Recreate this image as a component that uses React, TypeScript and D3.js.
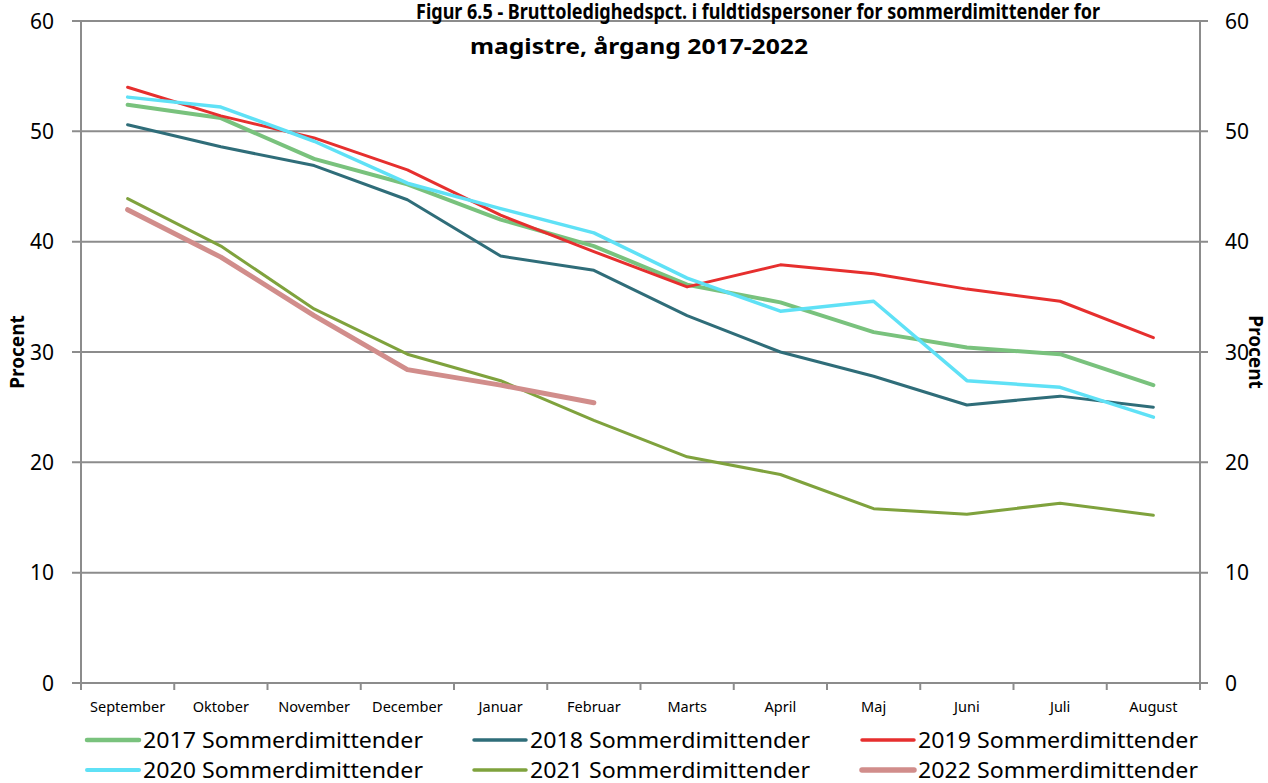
import React from "react";
import * as d3 from "d3";

const months = ["September", "Oktober", "November", "December", "Januar", "Februar", "Marts", "April", "Maj", "Juni", "Juli", "August"];
const yTicks = [0, 10, 20, 30, 40, 50, 60];

const s2017 = [52.4, 51.2, 47.5, 45.2, 42.0, 39.6, 36.1, 34.5, 31.8, 30.4, 29.8, 27.0];
const s2018 = [50.6, 48.6, 46.9, 43.8, 38.7, 37.4, 33.3, 30.0, 27.8, 25.2, 26.0, 25.0];
const s2019 = [54.0, 51.4, 49.4, 46.5, 42.4, 39.1, 35.9, 37.9, 37.1, 35.7, 34.6, 31.3];
const s2020 = [53.1, 52.2, 49.1, 45.3, 43.0, 40.8, 36.7, 33.7, 34.6, 27.4, 26.8, 24.1];
const s2021 = [43.9, 39.6, 33.9, 29.8, 27.4, 23.8, 20.5, 18.9, 15.8, 15.3, 16.3, 15.2];
const s2022 = [42.9, 38.6, 33.3, 28.4, 27.0, 25.4];

const seriesNames = ["2017 Sommerdimittender", "2018 Sommerdimittender", "2019 Sommerdimittender", "2020 Sommerdimittender", "2021 Sommerdimittender", "2022 Sommerdimittender"];

const series = [
  { name: seriesNames[0], values: s2017, color: "#79C27D", width: 4 },
  { name: seriesNames[1], values: s2018, color: "#2F6D79", width: 3 },
  { name: seriesNames[2], values: s2019, color: "#E62F2E", width: 3 },
  { name: seriesNames[3], values: s2020, color: "#5FE1F6", width: 3.5 },
  { name: seriesNames[4], values: s2021, color: "#7FA23D", width: 3 },
  { name: seriesNames[5], values: s2022, color: "#D18D8B", width: 5 },
];

const W = 1268;
const H = 783;
const L = 81;
const R = 1200;
const T = 21;
const B = 683;
const FONT = "'Noto Sans', 'Open Sans', sans-serif";
const GRID = "#8C8C8C";

export default function App() {
  const x = d3.scaleBand<string>().domain(months).range([L, R]).padding(0);
  const y = d3.scaleLinear().domain([0, 60]).range([B, T]);
  const line = d3
    .line<number>()
    .x((_, i) => (x(months[i]) as number) + x.bandwidth() / 2)
    .y((d) => y(d));

  const boundaries = months.map((m) => x(m) as number).concat([R]);

  const row1 = 740;
  const row2 = 770;
  const legendPos = [
    { lx: 87, tx: 143, ly: row1 },
    { lx: 474, tx: 530, ly: row1 },
    { lx: 862, tx: 918, ly: row1 },
    { lx: 87, tx: 143, ly: row2 },
    { lx: 474, tx: 530, ly: row2 },
    { lx: 862, tx: 918, ly: row2 },
  ];

  return (
    <svg
      width={W}
      height={H}
      style={{ position: "absolute", left: 0, top: 0, background: "#fff" }}
      fontFamily={FONT}
    >
      <rect x={0} y={0} width={W} height={H} fill="#fff" />
      {/* gridlines */}
      {yTicks.map((t) => (
        <line key={"g" + t} x1={L - 9} x2={R + 8} y1={y(t)} y2={y(t)} stroke={GRID} strokeWidth={2} />
      ))}
      {/* axes */}
      <line x1={L} x2={L} y1={T} y2={B} stroke={GRID} strokeWidth={2} />
      <line x1={R} x2={R} y1={T} y2={B} stroke={GRID} strokeWidth={2} />
      {boundaries.map((bx, i) => (
        <line key={"xt" + i} x1={bx} x2={bx} y1={B} y2={B + 7} stroke={GRID} strokeWidth={2} />
      ))}
      {/* y labels */}
      {yTicks.map((t) => (
        <text key={"yl" + t} x={54} y={y(t)} dy="0.36em" textAnchor="end" fontSize={21} fill="#000">
          {t}
        </text>
      ))}
      {yTicks.map((t) => (
        <text key={"yr" + t} x={1225} y={y(t)} dy="0.36em" textAnchor="start" fontSize={21} fill="#000">
          {t}
        </text>
      ))}
      {/* x labels */}
      {months.map((m) => (
        <text
          key={"xl" + m}
          x={(x(m) as number) + x.bandwidth() / 2}
          y={707}
          dy="0.36em"
          textAnchor="middle"
          fontSize={14.5}
          fill="#000"
        >
          {m}
        </text>
      ))}
      {/* axis titles */}
      <text
        transform={`translate(17,352) rotate(-90)`}
        textAnchor="middle"
        dy="0.36em"
        fontSize={19}
        fontWeight="bold"
        fill="#000"
      >
        Procent
      </text>
      <text
        transform={`translate(1256,352) rotate(90)`}
        textAnchor="middle"
        dy="0.36em"
        fontSize={19}
        fontWeight="bold"
        fill="#000"
      >
        Procent
      </text>
      {/* title */}
      <text x={416} y={19} fontSize={21} fontWeight="bold" fill="#000" textLength={684} lengthAdjust="spacingAndGlyphs">
        Figur 6.5 - Bruttoledighedspct. i fuldtidspersoner for sommerdimittender for
      </text>
      <text x={470} y={54} fontSize={21} fontWeight="bold" fill="#000" textLength={338} lengthAdjust="spacingAndGlyphs">
        magistre, årgang 2017-2022
      </text>
      {/* series */}
      {series.map((s) => (
        <path
          key={s.name}
          d={line(s.values) || ""}
          fill="none"
          stroke={s.color}
          strokeWidth={s.width}
          strokeLinejoin="round"
          strokeLinecap="round"
        />
      ))}
      {/* legend */}
      {series.map((s, i) => (
        <g key={"lg" + i}>
          <line
            x1={legendPos[i].lx}
            x2={legendPos[i].lx + 52}
            y1={legendPos[i].ly}
            y2={legendPos[i].ly}
            stroke={s.color}
            strokeWidth={s.width + 0.5}
            strokeLinecap="round"
          />
          <text
            x={legendPos[i].tx}
            y={legendPos[i].ly}
            dy="0.36em"
            fontSize={22}
            fill="#000"
            textLength={280}
            lengthAdjust="spacingAndGlyphs"
          >
            {s.name}
          </text>
        </g>
      ))}
    </svg>
  );
}
